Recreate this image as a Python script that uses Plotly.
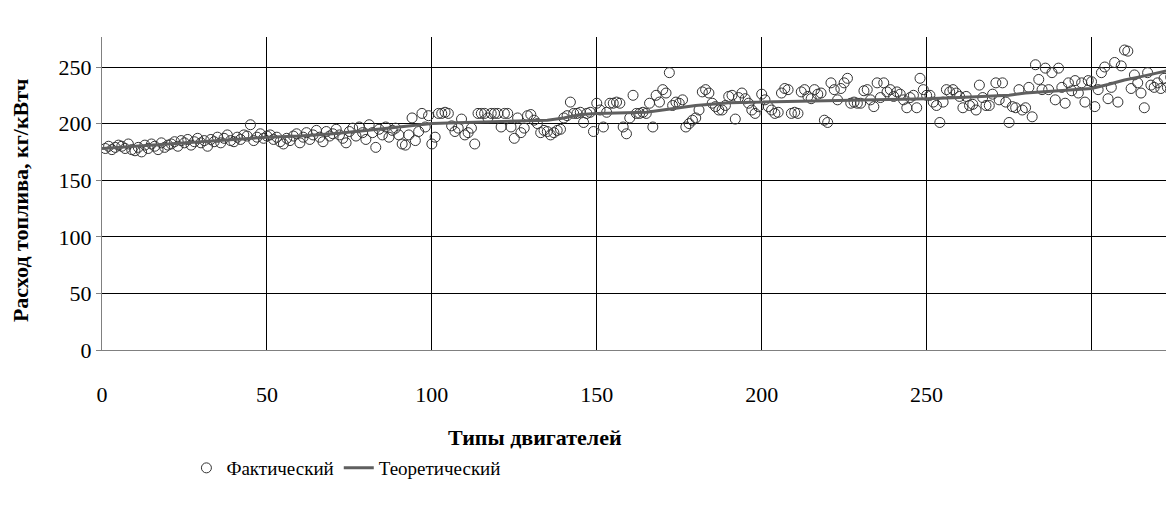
import plotly.graph_objects as go

# Фактический: one point per engine type 1..325
actual = [
    178,180,177,179,181,180,178,182,177,176,
    179,175,181,178,182,180,177,183,179,181,
    182,184,180,185,183,186,181,184,187,183,
    185,180,186,184,188,183,187,190,185,184,
    188,186,190,189,199,185,188,191,187,189,
    190,186,188,184,182,187,185,189,191,183,
    188,192,186,190,194,188,184,193,189,191,
    195,190,187,183,193,196,189,197,192,186,
    199,192,179,195,190,197,188,194,196,190,
    182,181,190,205,185,193,209,197,207,182,
    188,209,209,210,209,198,193,196,204,190,
    192,196,182,209,209,209,205,209,209,209,
    197,209,209,197,187,205,192,196,207,208,
    203,200,192,194,193,190,192,194,195,205,
    207,219,209,209,210,201,209,210,193,218,
    212,197,210,218,218,219,218,197,191,205,
    225,209,209,210,209,218,197,225,219,230,
    227,245,216,219,218,221,197,200,203,205,
    212,228,230,227,218,215,212,212,216,224,
    225,204,223,227,222,218,212,209,215,226,
    221,215,212,209,210,227,231,230,209,210,
    209,228,230,224,222,230,226,227,203,201,
    236,230,221,231,236,240,218,219,218,218,
    229,230,221,215,236,223,236,228,230,224,
    228,226,221,214,223,225,214,240,230,225,
    225,219,216,201,219,230,228,230,227,224,
    214,224,216,217,212,234,223,216,216,226,
    236,221,236,219,201,215,214,230,212,214,
    232,206,252,239,230,249,230,245,221,249,
    232,218,236,229,238,227,236,219,238,237,
    215,230,245,250,222,232,254,219,251,265,
    264,231,243,236,227,214,245,234,232,236,
    231,240,232,241,256,
]
engine_types = list(range(1, len(actual) + 1))

# Теоретический
theory_x = [0, 10, 20, 30, 40, 50, 60, 70, 80, 90, 100, 110, 120, 130, 135, 140, 145, 150,
            160, 165, 170, 175, 180, 190, 200, 210, 220, 230, 240, 250, 260, 270, 275, 280,
            290, 300, 305, 310, 315, 320, 325]
theory_y = [178, 180, 182, 184, 186, 188, 189, 191, 194, 197, 200, 201, 202, 203, 203, 205, 208, 209,
            210, 210, 212, 214, 216, 218.5, 219, 219.5, 220, 220.5, 221, 222, 223, 224, 225, 227,
            229, 231, 234.5, 238.5, 241.5, 244.5, 248]

x_ticks = [0, 50, 100, 150, 200, 250, 300]
x_tick_text = ["0", "50", "100", "150", "200", "250", ""]
y_ticks = [0, 50, 100, 150, 200, 250]

FONT = "Liberation Serif"

fig = go.Figure()
fig.add_trace(go.Scatter(
    x=engine_types, y=actual, mode="markers", name="Фактический",
    marker=dict(symbol="circle-open", size=10, color="#333333", line=dict(width=1)),
))
fig.add_trace(go.Scatter(
    x=theory_x, y=theory_y, mode="lines", name="Теоретический",
    line=dict(color="#5f5f5f", width=3),
))

fig.update_layout(
    width=1174, height=506,
    margin=dict(l=94, r=8, t=29, b=164),
    paper_bgcolor="white", plot_bgcolor="white",
    font=dict(family=FONT, size=20, color="black"),
    showlegend=True,
    legend=dict(orientation="h", x=0.228, y=-0.377, xanchor="center", yanchor="middle",
                font=dict(family=FONT, size=19), bgcolor="rgba(0,0,0,0)", itemwidth=30),
    xaxis=dict(range=[0, 325], tickvals=x_ticks, ticktext=x_tick_text,
               showgrid=True, gridcolor="black", gridwidth=1,
               showline=True, linecolor="#808080", linewidth=1,
               zeroline=False, ticks="", ticklabelstandoff=25,
               tickfont=dict(family=FONT, size=22)),
    yaxis=dict(range=[0, 276.5], tickvals=y_ticks,
               showgrid=True, gridcolor="black", gridwidth=1,
               showline=True, linecolor="#808080", linewidth=1,
               zeroline=False, ticks="outside", ticklen=5, tickcolor="#808080",
               tickfont=dict(family=FONT, size=22)),
    annotations=[
        dict(text="<b>Расход топлива, кг/кВтч</b>", xref="paper", yref="paper",
             x=-0.0765, y=0.479, xanchor="center", yanchor="middle", textangle=-90,
             showarrow=False, font=dict(family=FONT, size=22)),
        dict(text="<b>Типы двигателей</b>", xref="paper", yref="paper",
             x=0.404, y=-0.281, xanchor="center", yanchor="middle",
             showarrow=False, font=dict(family=FONT, size=22)),
    ],
)

fig.write_html("out.html")
